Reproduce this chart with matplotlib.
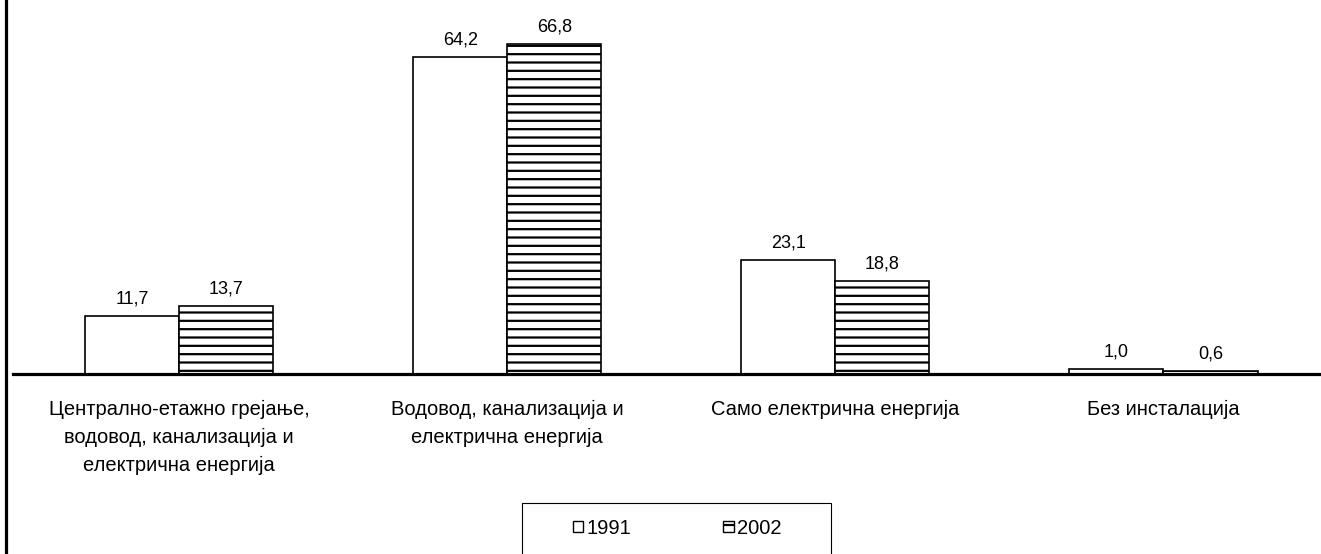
import matplotlib.pyplot as plt
import matplotlib.transforms as mtransforms
from matplotlib.patches import Patch, Rectangle
from matplotlib.lines import Line2D
import numpy as np

plt.rcParams['font.family'] = ['Liberation Sans', 'DejaVu Sans']
plt.rcParams['hatch.linewidth'] = 1.6

categories = [
    'Централно-етажно грејање,\nводовод, канализација и\nелектрична енергија',
    'Водовод, канализација и\nелектрична енергија',
    'Само електрична енергија',
    'Без инсталација',
]
values_1991 = [11.7, 64.2, 23.1, 1.0]
values_2002 = [13.7, 66.8, 18.8, 0.6]
series_labels = ['1991', '2002']

W, H = 1321, 554
fig = plt.figure(figsize=(W / 100, H / 100), dpi=100)
ax = fig.add_axes([13 / W, 1 - 374 / H, 1 - 13 / W, 374 / H])

x = np.arange(len(categories))
width = 0.2866

bars1 = ax.bar(x - width / 2, values_1991, width, color='white',
               edgecolor='black', linewidth=1.2)
bars2 = ax.bar(x + width / 2, values_2002, width, color='white',
               edgecolor='black', linewidth=1.2, hatch='--')

for bars in (bars1, bars2):
    for bar in bars:
        h = bar.get_height()
        ax.annotate(f'{h:.1f}'.replace('.', ','),
                    (bar.get_x() + bar.get_width() / 2, h),
                    xytext=(0, 6), textcoords='offset points',
                    ha='center', va='bottom', fontsize=13)

ax.set_xlim(-0.506, 3.48)
ax.set_ylim(0, 75.7)
for side in ('top', 'left', 'right'):
    ax.spines[side].set_visible(False)
ax.spines['bottom'].set_linewidth(2.3)
ax.set_xticks([])
ax.set_yticks([])

# category labels under the baseline
trans = mtransforms.blended_transform_factory(ax.transData, fig.transFigure)
for xi, lab in zip(x, categories):
    ax.text(xi, 1 - 400 / H, lab, transform=trans, ha='center', va='top',
            fontsize=14.5, linespacing=1.58)

# left frame line
fig.add_artist(Line2D([6 / W, 6 / W], [0, 1], color='black', linewidth=2.3,
                      transform=fig.transFigure))

# legend box (bottom runs off the picture)
fig.add_artist(Rectangle((522 / W, -0.1), (831 - 522) / W, 1.1 - 503 / H,
                         transform=fig.transFigure, facecolor='white',
                         edgecolor='black', linewidth=0.8))
handles = [Patch(facecolor='white', edgecolor='black', linewidth=1.0),
           Patch(facecolor='white', edgecolor='black', linewidth=1.0, hatch='-')]
fig.legend(handles, series_labels, loc='center', ncol=2, frameon=False,
           bbox_to_anchor=(677 / W, 1 - 528 / H), fontsize=14.5,
           handlelength=0.5, handleheight=0.5, handletextpad=0.15,
           columnspacing=4.6)

fig.savefig('out.png', dpi=100)
